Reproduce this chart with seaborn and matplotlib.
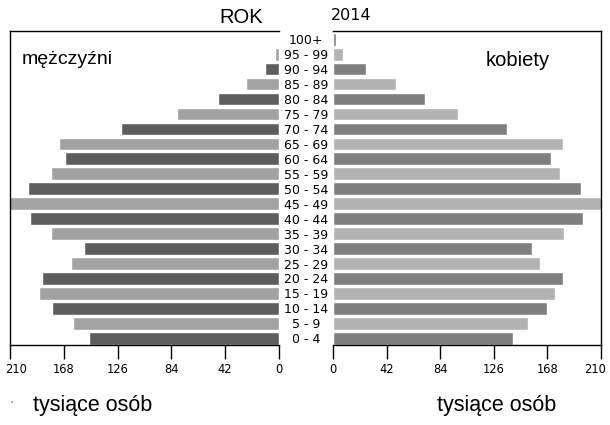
import matplotlib
matplotlib.use("Agg")
import matplotlib.pyplot as plt
import seaborn as sns
import pandas as pd
from matplotlib.transforms import ScaledTranslation

# ---- data (thousands of persons), top to bottom ----
age_groups = ["100+", "95 - 99", "90 - 94", "85 - 89", "80 - 84", "75 - 79",
              "70 - 74", "65 - 69", "60 - 64", "55 - 59", "50 - 54", "45 - 49",
              "40 - 44", "35 - 39", "30 - 34", "25 - 29", "20 - 24", "15 - 19",
              "10 - 14", "5 - 9", "0 - 4"]
men = [1, 3, 11, 26, 48, 80, 123, 172, 167, 178, 196, 212,
       194, 178, 152, 162, 185, 187, 177, 161, 148]
women = [2, 8, 26, 49, 72, 98, 136, 180, 171, 178, 194, 212,
         196, 181, 156, 162, 180, 174, 168, 153, 141]
x_ticks = [0, 42, 84, 126, 168, 210]

title_left = "ROK"
title_right = "2014"
label_men = "mężczyźni"
label_women = "kobiety"
x_label = "tysiące osób"

sns.set_theme(style="white")
plt.rcParams['font.family'] = ['DejaVu Sans']
plt.rcParams['text.color'] = 'black'
plt.rcParams['axes.labelcolor'] = 'black'
plt.rcParams['xtick.color'] = 'black'
plt.rcParams['ytick.color'] = 'black'

df = pd.DataFrame({"age": age_groups, "men": men, "women": women})

# alternating shading: bottom group (0 - 4) dark
dark_idx = [(len(age_groups) - 1 - i) % 2 == 0 for i in range(len(age_groups))]
pal_men = {a: ("#5e5e5e" if d else "#a2a2a2") for a, d in zip(age_groups, dark_idx)}
pal_women = {a: ("#7f7f7f" if d else "#b3b3b3") for a, d in zip(age_groups, dark_idx)}

fig = plt.figure(figsize=(6.10, 4.25), dpi=100)
fig.patch.set_facecolor("white")
W, H = 610, 425
ax_l = fig.add_axes([10 / W, 1 - 345 / H, 269 / W, 314 / H])
ax_r = fig.add_axes([333 / W, 1 - 345 / H, 268 / W, 314 / H])

sns.barplot(data=df, y="age", x="men", hue="age", palette=pal_men, order=age_groups,
            hue_order=age_groups, legend=False, width=0.85, ax=ax_l, orient="h",
            saturation=1)
sns.barplot(data=df, y="age", x="women", hue="age", palette=pal_women, order=age_groups,
            hue_order=age_groups, legend=False, width=0.85, ax=ax_r, orient="h",
            saturation=1)

n = len(age_groups)
for ax in (ax_l, ax_r):
    ax.set_ylim(n - 1 + 0.45, -0.55)
    ax.set_xticks(x_ticks)
    ax.set_xticklabels([str(t) for t in x_ticks], fontsize=8.3, color="black")
    ax.tick_params(axis="x", direction="out", length=10, width=1, pad=3,
                   colors="black", bottom=True)
    ax.set_xlabel("")
    ax.set_ylabel("")
    ax.set_facecolor("white")
    for s in ax.spines.values():
        s.set_color("black")
        s.set_linewidth(1)

ax_l.set_xlim(210, 0)
ax_r.set_xlim(0, 210)
ax_l.spines["right"].set_visible(False)
ax_r.spines["left"].set_visible(False)

# shift outer "210" labels inward as in the reference
for lab in ax_l.get_xticklabels():
    if lab.get_text() == "210":
        lab.set_transform(lab.get_transform() + ScaledTranslation(6 / 100, 0, fig.dpi_scale_trans))
for lab in ax_r.get_xticklabels():
    if lab.get_text() == "210":
        lab.set_transform(lab.get_transform() + ScaledTranslation(-6 / 100, 0, fig.dpi_scale_trans))

# age labels centered between panels
ax_l.set_yticks([])
ax_r.set_yticks(range(n))
ax_r.set_yticklabels(age_groups, fontsize=9, color="black")
ax_r.tick_params(axis="y", length=0, pad=27 * 72 / 100, left=True)
for lab in ax_r.get_yticklabels():
    lab.set_horizontalalignment("center")

arial = ["Liberation Sans", "DejaVu Sans"]
fig.text(219 / W, 1 - 17.5 / H, title_left, fontsize=14.5, family=arial,
         ha="left", va="center",
         bbox=dict(boxstyle="square,pad=0.15", fc="white", ec="none"))
fig.text(331 / W, 1 - 16 / H, title_right, fontsize=11.5, ha="left", va="center")
fig.text(22 / W, 1 - 60 / H, label_men, fontsize=14, family=arial, ha="left", va="center")
fig.text(518 / W, 1 - 60 / H, label_women, fontsize=14.5, family=arial, ha="center", va="center")
fig.text(11 / W, 1 - 405 / H, "'", fontsize=6, ha="center", va="center", color="#444444")
fig.text(33 / W, 1 - 405 / H, x_label, fontsize=15.5, family=arial, ha="left", va="center")
fig.text(437 / W, 1 - 405 / H, x_label, fontsize=15.5, family=arial, ha="left", va="center")

fig.savefig("out.png", dpi=100, facecolor="white")
